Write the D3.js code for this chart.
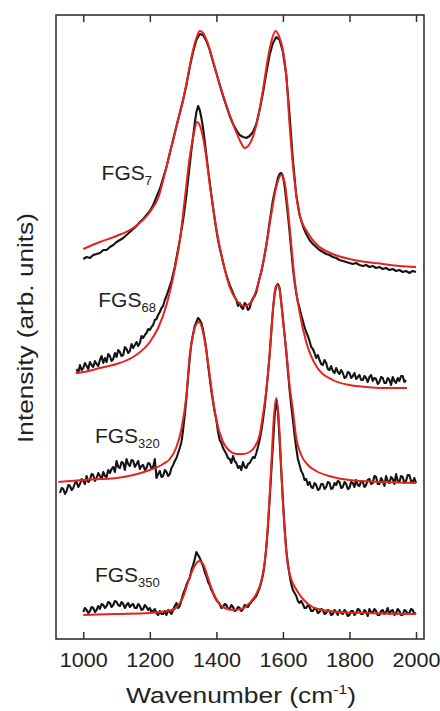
<!DOCTYPE html>
<html>
<head>
<meta charset="utf-8">
<script src="https://cdn.jsdelivr.net/npm/d3@7"></script>
<style>
  html, body { margin: 0; padding: 0; background: #fff; }
  svg { display: block; }
  text { font-family: "Liberation Sans", Arial, sans-serif; fill: #222; }
</style>
</head>
<body>
<svg id="chart" width="440" height="711"></svg>
<script>
// Raman spectra of functionalized graphene sheets (measured data + Lorentzian fits)
const wavenumberTicks = [1000, 1200, 1400, 1600, 1800, 2000];
const sampleNames = ["7", "68", "320", "350"];

// Measured spectra: start wavenumber, sampling step (cm^-1) and intensities
const fgs7Start = 1000, fgs7Step = 10;
const fgs7Counts = [
  380,382,381,384,385,386,389,389,392,394,
  397,399,401,404,407,410,413,417,420,424,
  428,434,442,450,461,472,486,499,513,526,
  539,554,572,587,599,605,604,598,589,577,
  566,554,543,533,523,515,509,504,502,501,
  503,507,515,529,546,566,584,596,602,599,
  587,564,524,479,444,424,413,405,399,395,
  392,389,387,385,384,382,381,379,378,377,
  376,375,376,374,373,374,372,373,371,372,
  370,371,369,370,368,369,367,368,366,368,
  367
];
const fgs68Start = 980, fgs68Step = 5;
const fgs68Counts = [
  270,266,274,269,271,276,273,270,277,274,
  272,278,275,273,279,283,276,281,277,285,
  283,278,280,286,282,289,287,283,284,292,
  290,286,288,295,291,294,297,293,296,303,
  301,304,306,310,309,312,314,319,320,324,
  327,331,333,339,343,348,353,358,365,372,
  381,390,399,409,419,431,444,459,474,489,
  502,516,527,533,529,521,511,498,484,470,
  457,444,432,420,409,399,391,384,377,370,
  364,359,354,350,346,342,339,333,336,332,
  330,336,334,329,331,337,341,343,347,354,
  361,367,375,384,394,405,417,428,439,447,
  454,461,465,466,463,453,439,424,407,389,
  371,357,346,337,331,324,318,312,307,303,
  298,292,290,286,281,284,279,275,274,279,
  276,270,269,273,268,266,271,267,265,269,
  266,261,262,267,266,261,263,266,260,262,
  264,259,259,263,261,257,262,264,258,261,
  260,255,257,262,261,256,256,261,259,254,
  262,258,256,261,258,263,263,257,259
];
const fgs320Start = 930, fgs320Step = 5;
const fgs320Counts = [
  146,151,150,145,148,154,153,149,151,156,
  157,152,155,160,158,155,163,157,159,165,
  164,158,161,166,163,160,167,163,162,169,
  166,170,172,167,178,172,171,177,176,169,
  180,175,173,179,178,172,175,178,170,173,
  174,169,171,176,175,170,172,180,161,165,
  168,162,163,169,167,163,165,171,174,178,
  181,186,191,197,209,224,241,262,281,296,
  305,313,317,321,319,316,309,300,289,274,
  261,248,237,227,219,207,199,196,191,188,
  185,181,180,176,183,178,176,171,173,169,
  177,172,171,175,176,179,182,181,186,192,
  199,208,219,232,247,265,284,307,329,345,
  353,355,351,337,321,304,287,268,249,233,
  219,204,191,180,174,168,165,159,160,154,
  157,152,151,156,154,149,150,155,155,150,
  152,157,156,150,151,156,154,158,157,151,
  152,157,155,150,151,157,156,152,159,154,
  153,158,157,152,154,159,160,155,156,163,
  162,155,155,161,158,153,163,158,156,162,
  160,155,165,158,157,163,162,156,158,164,
  164,158,157,161,156
];
const fgs350Start = 1000, fgs350Step = 5;
const fgs350Counts = [
  27,31,29,26,28,32,31,27,29,33,
  30,35,34,31,33,37,36,32,34,38,
  37,34,33,37,35,31,34,36,32,34,
  35,31,31,35,33,29,30,34,32,29,
  31,27,28,30,26,24,28,25,25,28,
  24,29,27,25,29,33,36,31,33,39,
  45,49,54,58,61,69,74,80,87,84,
  81,77,73,67,63,57,54,49,46,42,
  39,37,35,31,32,35,34,30,30,34,
  32,28,29,32,31,28,30,34,33,32,
  35,37,39,41,43,47,51,57,64,75,
  91,112,139,167,194,222,239,228,199,168,
  139,112,89,75,64,55,49,46,43,38,
  36,38,35,31,31,34,32,28,28,31,
  30,26,27,30,29,25,26,29,28,24,
  25,29,27,24,29,26,25,29,27,23,
  24,28,28,24,26,30,29,25,25,29,
  27,23,30,27,26,30,28,24,24,28,
  29,25,27,31,25,28,29,24,26,30,
  28,24,24,29,28,25,26,30,29,25,
  26
];

// Fitted curves (sum of D and G Lorentzians), sampled at the listed wavenumbers
const fit7Wn = [1000,1050,1100,1150,1200,1225,1250,1275,1300,1315,1330,1340,1350,1360,1375,1400,1425,1450,1470,1485,1500,1520,1540,1555,1568,1578,1588,1600,1610,1620,1630,1640,1650,1675,1700,1750,1800,1850,1900,1950,2000];
const fit7Int = [390,397,403,411,427,441,472,506,539,564,589,601,608,606,595,566,539,515,499,491,495,514,549,581,601,608,603,589,564,514,474,444,425,406,395,385,380,377,375,373,372];

const fit68Wn = [977,1000,1050,1100,1150,1200,1225,1250,1275,1290,1305,1320,1332,1342,1352,1365,1380,1395,1410,1425,1440,1460,1485,1505,1520,1535,1550,1565,1580,1595,1605,1615,1625,1635,1650,1670,1700,1750,1800,1850,1900,1973];
const fit68Int = [266,267,271,275,282,297,311,334,370,398,440,482,505,517,512,492,455,420,392,370,352,339,333,337,349,368,393,425,452,464,457,430,395,360,327,297,273,259,254,252,251,251];

const fit320Wn = [925,1000,1100,1150,1200,1240,1260,1280,1295,1310,1320,1330,1340,1348,1356,1365,1375,1390,1400,1420,1440,1460,1480,1500,1515,1530,1540,1550,1560,1570,1578,1584,1590,1600,1610,1620,1630,1640,1655,1675,1700,1750,1800,1900,2000];
const fit320Int = [157,159,161,164,169,175,180,192,210,244,284,304,315,317,312,298,276,239,219,197,188,185,185,187,192,204,224,249,284,329,352,354,349,319,289,254,229,201,184,174,168,162,159,157,156];

const fit350Wn = [1000,1100,1200,1250,1275,1290,1300,1317,1330,1340,1350,1360,1377,1392,1407,1425,1450,1475,1500,1520,1535,1545,1553,1560,1566,1572,1580,1587,1593,1599,1606,1614,1625,1641,1660,1689,1720,1770,1850,2000];
const fit350Int = [24,25,26,28,30,36,42,59,70,76,78,75,59,45,36,31,29,30,36,45,58,76,105,142,180,218,241,222,185,142,105,76,60,49,40,32,29,27,26,25];

// Label anchor points (wavenumber, intensity) for each sample name
const labelWn = [1055, 1045, 1035, 1035];
const labelInt = [459, 332, 196, 57];

const measured = [
  {start: fgs7Start, step: fgs7Step, counts: fgs7Counts},
  {start: fgs68Start, step: fgs68Step, counts: fgs68Counts},
  {start: fgs320Start, step: fgs320Step, counts: fgs320Counts},
  {start: fgs350Start, step: fgs350Step, counts: fgs350Counts}
].map(s => s.counts.map((c, i) => [s.start + i * s.step, c]));

const fits = [
  [fit7Wn, fit7Int], [fit68Wn, fit68Int], [fit320Wn, fit320Int], [fit350Wn, fit350Int]
].map(([w, v]) => w.map((x, i) => [x, v[i]]));

const svg = d3.select("#chart");
const frame = {left: 56, top: 15, right: 424, bottom: 639};

const x = d3.scaleLinear().domain([918, 2024]).range([frame.left, frame.right]);
const y = d3.scaleLinear().domain([0, 624]).range([frame.bottom, frame.top]);

// Measured spectra in black
const dataLine = d3.line().x(d => x(d[0])).y(d => y(d[1])).curve(d3.curveLinear);
svg.append("g").selectAll("path").data(measured).join("path")
  .attr("d", dataLine)
  .attr("fill", "none")
  .attr("stroke", "#141414")
  .attr("stroke-width", 2.1)
  .attr("stroke-linejoin", "round");

// Fits in red, on top
const fitLine = d3.line().x(d => x(d[0])).y(d => y(d[1])).curve(d3.curveMonotoneX);
svg.append("g").selectAll("path").data(fits).join("path")
  .attr("d", fitLine)
  .attr("fill", "none")
  .attr("stroke", "#e3241f")
  .attr("stroke-width", 2);

// Frame
svg.append("rect")
  .attr("x", frame.left).attr("y", frame.top)
  .attr("width", frame.right - frame.left).attr("height", frame.bottom - frame.top)
  .attr("fill", "none").attr("stroke", "#333").attr("stroke-width", 1.6);

// Bottom axis with inward ticks
const xAxis = svg.append("g")
  .attr("transform", `translate(0,${frame.bottom})`)
  .call(d3.axisBottom(x).tickValues(wavenumberTicks).tickFormat(d3.format("d"))
    .tickSizeInner(-7).tickSizeOuter(0).tickPadding(14));
xAxis.select(".domain").remove();
xAxis.selectAll(".tick line").attr("stroke", "#333").attr("stroke-width", 1.5);
xAxis.selectAll(".tick text")
  .attr("font-size", 20)
  .attr("fill", "#222")
  .attr("dy", "0.72em")
  .attr("transform", "scale(1.08,1)")
  .style("font-family", "'Liberation Sans', Arial, sans-serif");

// Top axis: ticks only
const xTop = svg.append("g")
  .attr("transform", `translate(0,${frame.top})`)
  .call(d3.axisTop(x).tickValues(wavenumberTicks).tickFormat("")
    .tickSizeInner(-7).tickSizeOuter(0));
xTop.select(".domain").remove();
xTop.selectAll(".tick line").attr("stroke", "#333").attr("stroke-width", 1.5);

// Axis titles
const xTitle = svg.append("g")
  .attr("transform", `translate(241,703) scale(1.2,1)`)
  .append("text")
  .attr("text-anchor", "middle")
  .attr("font-size", 22);
xTitle.append("tspan").text("Wavenumber (cm");
xTitle.append("tspan").attr("font-size", 13).attr("dy", -9).text("-1");
xTitle.append("tspan").attr("dy", 9).text(")");

svg.append("g")
  .attr("transform", `translate(33,328) rotate(-90) scale(1.19,1)`)
  .append("text")
  .attr("text-anchor", "middle")
  .attr("font-size", 22)
  .text("Intensity (arb. units)");

// Sample labels with subscripts
sampleNames.forEach((n, i) => {
  const t = svg.append("text")
    .attr("x", x(labelWn[i]))
    .attr("y", y(labelInt[i]))
    .attr("font-size", 21);
  t.append("tspan").text("FGS");
  t.append("tspan").attr("font-size", 13).attr("dy", 5).text(n);
});
</script>
</body>
</html>
